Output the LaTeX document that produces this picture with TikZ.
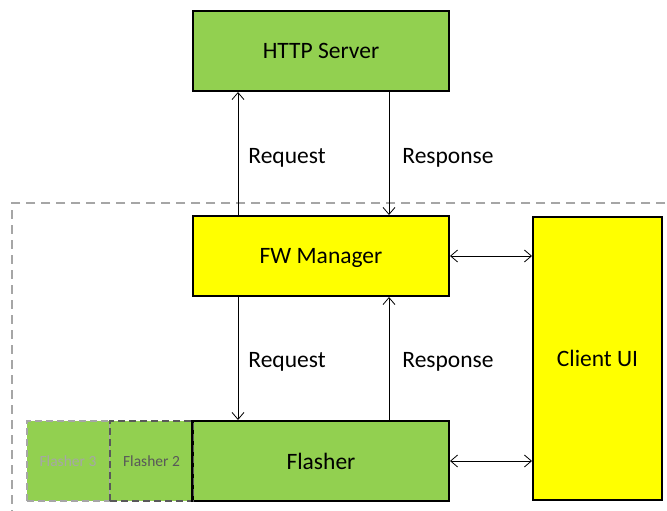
\documentclass[tikz,border=0pt]{standalone}
\usepackage{fontspec}
\setmainfont{Carlito}
\usetikzlibrary{arrows.meta}
\definecolor{boxgreen}{HTML}{92D050}
\definecolor{boxyellow}{HTML}{FFFF00}
\definecolor{lightgrey}{HTML}{A6A6A6}
\definecolor{darkgrey}{HTML}{595959}
\tikzset{
  block/.style={draw=black, line width=2pt, minimum width=256pt, minimum height=80pt,
                inner sep=0pt, text depth=0pt, font=\fontsize{23.5}{28}\selectfont},
  greenblock/.style={block, fill=boxgreen},
  yellowblock/.style={block, fill=boxyellow},
  ghost/.style={fill=boxgreen, line width=2pt, dash pattern=on 7pt off 4pt,
                minimum width=83pt, minimum height=80pt, inner sep=0pt, text depth=0pt,
                font=\fontsize{15.5}{18}\selectfont},
  link/.style={line width=0.8pt, -{Straight Barb[length=7pt,width=12pt,line width=0.8pt]}},
  duplex/.style={line width=0.8pt, {Straight Barb[length=7pt,width=12pt,line width=0.8pt]}-{Straight Barb[length=7pt,width=12pt,line width=0.8pt]}},
  lbl/.style={font=\fontsize{23.5}{28}\selectfont, inner sep=0pt, text depth=0pt}
}
\begin{document}
\begin{tikzpicture}[x=1pt, y=-1pt]
  \useasboundingbox (0,0) rectangle (667,511);
  \clip (0,0) rectangle (667,511);
  \fill[white] (0,0) rectangle (667,511);

  % device boundary
  \draw[lightgrey, line width=2.5pt, dash pattern=on 9pt off 6pt] (680,203) -- (12,203) -- (12,530);

  % main blocks
  \node[greenblock] (http) at (321,51) {HTTP Server};
  \node[yellowblock] (fw) at (321,256) {FW Manager};
  \node[greenblock] (flasher) at (321,461) {Flasher};
  \node[yellowblock, minimum width=129pt, minimum height=283pt] (ui) at (597.5,358.5) {Client UI};

  % additional flasher instances
  \node[ghost, draw=lightgrey, text=lightgrey] (fl3) at (68,461) {Flasher 3};
  \node[ghost, draw=darkgrey, text=darkgrey] (fl2) at (151.5,461) {Flasher 2};
  \draw[black, line width=2pt] (flasher.north west) -- (flasher.south west);

  % lanes for the vertical connectors
  \coordinate (lreq) at (238,0);
  \coordinate (lresp) at (389,0);

  % FW Manager <-> HTTP Server
  \draw[link] (fw.north -| lreq) -- (http.south -| lreq);
  \draw[link] (http.south -| lresp) -- (fw.north -| lresp);
  \node[lbl] (rq1) at (287,156) {Request};
  \node[lbl] (rs1) at (448,156) {Response};

  % FW Manager <-> Flasher
  \draw[link] (fw.south -| lreq) -- (flasher.north -| lreq);
  \draw[link] (flasher.north -| lresp) -- (fw.south -| lresp);
  \node[lbl] (rq2) at (287,360) {Request};
  \node[lbl] (rs2) at (448,360) {Response};

  % links to the client UI
  \draw[duplex] (fw.east) -- (fw.east -| ui.west);
  \draw[duplex] (flasher.east) -- (flasher.east -| ui.west);
\end{tikzpicture}
\end{document}
